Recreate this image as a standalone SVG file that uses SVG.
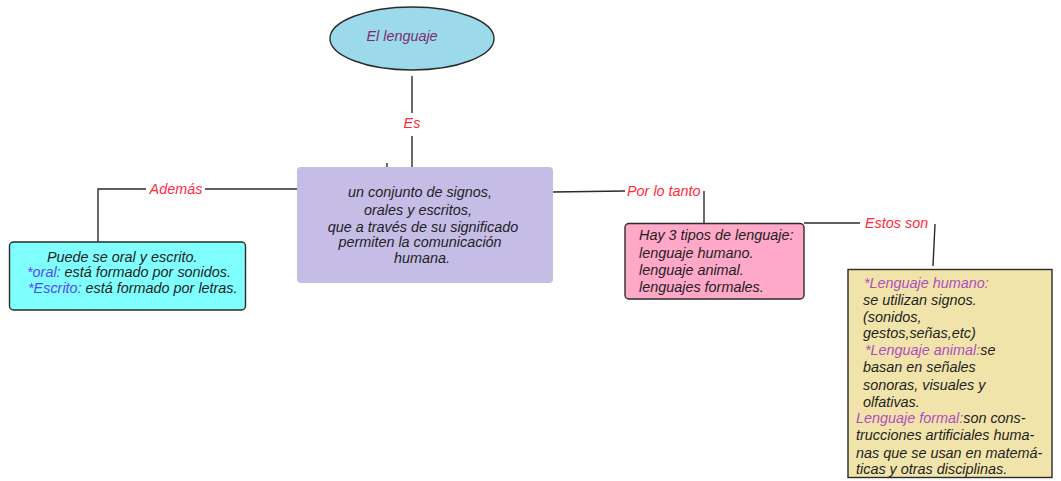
<svg xmlns="http://www.w3.org/2000/svg" width="1061" height="481" viewBox="0 0 1061 481">
<style>
text{font-family:"Liberation Sans",Arial,sans-serif;font-size:14.4px;font-style:italic;fill:#1e1e1e}
.lbl{fill:#ff2b3c}
.hl{fill:#b04cbc}
.bl{fill:#5548f0}
.c{stroke:#2b2b2b;stroke-width:1.4;fill:none}
</style>
<rect width="1061" height="481" fill="#ffffff"/>
<g id="connectors">
<line class="c" x1="412" y1="76" x2="412" y2="113"/>
<line class="c" x1="412" y1="136" x2="412" y2="167"/>
<line class="c" x1="387" y1="163" x2="387" y2="171"/>
<polyline class="c" points="297,189 205,189"/>
<polyline class="c" points="146,189 98,189 98,242"/>
<line class="c" x1="553" y1="192" x2="625" y2="191"/>
<line class="c" x1="704" y1="191" x2="704" y2="226"/>
<line class="c" x1="804" y1="223" x2="860" y2="223"/>
<line class="c" x1="935" y1="224" x2="933" y2="266"/>
<text class="lbl" x="412" y="128" text-anchor="middle">Es</text>
<text class="lbl" x="176" y="194" text-anchor="middle">Además</text>
<text class="lbl" x="627" y="196">Por lo tanto</text>
<text class="lbl" x="865" y="228">Estos son</text>
</g>
<g id="n-lenguaje">
<ellipse cx="412" cy="38.5" rx="82" ry="31.5" fill="#9cd9ea" stroke="#2b2b2b" stroke-width="1.4"/>
<text x="402" y="41" text-anchor="middle" style="fill:#7b2d6e">El lenguaje</text>
</g>
<g id="n-conjunto">
<rect x="297" y="167" width="256" height="116" rx="4" fill="#c5bde6"/>
<text text-anchor="middle">
<tspan x="422" y="197">un conjunto de signos,</tspan>
<tspan x="420" y="215">orales y escritos,</tspan>
<tspan x="425" y="232">que a través de su significado</tspan>
<tspan x="422" y="247">permiten la comunicación</tspan>
<tspan x="422" y="263">humana.</tspan>
</text>
</g>
<g id="n-oral">
<rect x="9.5" y="242" width="236" height="68" rx="4" fill="#80ffff" stroke="#2b2b2b" stroke-width="1.4"/>
<text x="47" y="262">Puede se oral y escrito.</text>
<text x="27" y="277"><tspan class="bl">*oral:</tspan> está formado por sonidos.</text>
<text x="28" y="293"><tspan class="bl">*Escrito:</tspan> está formado por letras.</text>
</g>
<g id="n-tipos">
<rect x="625" y="223.5" width="179" height="75.5" rx="4" fill="#ffa8c8" stroke="#2b2b2b" stroke-width="1.4"/>
<text x="639" y="240">Hay 3 tipos de lenguaje:</text>
<text x="639" y="258">lenguaje humano.</text>
<text x="639" y="275">lenguaje animal.</text>
<text x="639" y="292">lenguajes formales.</text>
</g>
<g id="n-detalle">
<rect x="848" y="269.5" width="204" height="208" fill="#f1e4ab" stroke="#2b2b2b" stroke-width="1.4"/>
<text class="hl" x="864" y="288">*Lenguaje humano:</text>
<text x="863" y="305">se utilizan signos.</text>
<text x="863" y="322">(sonidos,</text>
<text x="863" y="338">gestos,señas,etc)</text>
<text x="865" y="355"><tspan class="hl">*Lenguaje animal:</tspan>se</text>
<text x="863" y="372">basan en señales</text>
<text x="863" y="390">sonoras, visuales y</text>
<text x="863" y="407">olfativas.</text>
<text x="856" y="423"><tspan class="hl">Lenguaje formal:</tspan>son cons-</text>
<text x="856" y="440">trucciones artificiales huma-</text>
<text x="856" y="458">nas que se usan en matemá-</text>
<text x="856" y="474">ticas y otras disciplinas.</text>
</g>
</svg>
